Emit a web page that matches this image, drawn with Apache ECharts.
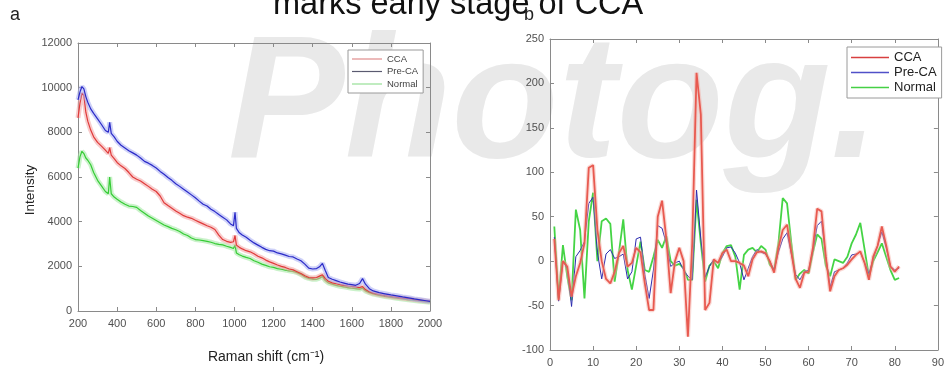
<!DOCTYPE html>
<html>
<head>
<meta charset="utf-8">
<script src="https://cdn.jsdelivr.net/npm/echarts@6/dist/echarts.min.js"></script>
<style>
  html, body { margin: 0; padding: 0; background: #fff; }
  #chart { width: 947px; height: 369px; }
</style>
</head>
<body>
<div id="chart"></div>
<script>
// ---- Panel a: mean Raman spectra ----
const ramanShift = [
  200, 210, 220, 230, 240, 250, 265, 280, 300, 320,
  340, 355, 362, 370, 385, 400, 420, 440, 460, 480,
  500, 520, 540, 560, 580, 600, 620, 640, 660, 680,
  700, 720, 740, 760, 780, 800, 820, 840, 860, 880,
  900, 920, 940, 960, 980, 995, 1003, 1010, 1025, 1040,
  1060, 1080, 1100, 1120, 1140, 1160, 1180, 1200, 1220, 1240,
  1260, 1280, 1300, 1320, 1340, 1360, 1380, 1400, 1420, 1435,
  1450, 1465, 1480, 1500, 1520, 1540, 1560, 1580, 1600, 1620,
  1640, 1655, 1670, 1690, 1710, 1740, 1770, 1800, 1830, 1860,
  1890, 1920, 1950, 1980, 2000
];
const ccaSpectrum = [
  8650, 9300, 9750, 9650, 8900, 8500, 8100, 7800, 7550, 7380,
  7200, 7060, 7320, 6980, 6820, 6650, 6500, 6380, 6200, 6000,
  5900, 5820, 5700, 5580, 5450, 5350, 5150, 4850, 4720, 4600,
  4480, 4380, 4270, 4200, 4150, 4060, 3980, 3900, 3820, 3750,
  3650, 3400, 3200, 3120, 3070, 3100, 3380, 2950, 2850, 2780,
  2700, 2650, 2560, 2450, 2380, 2280, 2200, 2130, 2060, 2000,
  1950, 1880, 1840, 1760, 1680, 1580, 1500, 1480, 1500, 1560,
  1620, 1450, 1330, 1260, 1220, 1180, 1150, 1120, 1100, 1080,
  1050, 1090, 960, 860, 800, 740, 690, 650, 610, 580,
  550, 510, 480, 450, 440
];
const preCaSpectrum = [
  9450, 9800, 10050, 9950, 9600, 9350, 9050, 8850, 8600, 8350,
  8080, 8000, 8450, 7950, 7800, 7600, 7420, 7300, 7180, 7080,
  6980, 6850, 6700, 6620, 6520, 6400, 6250, 6120, 5980, 5850,
  5700, 5580, 5450, 5330, 5200, 5070, 4920, 4780, 4700, 4560,
  4450, 4320, 4200, 4080, 3900, 3820, 4420, 3700, 3500, 3400,
  3300, 3170, 3050, 2950, 2850, 2760, 2700, 2680, 2600, 2560,
  2500, 2440, 2420, 2330, 2250, 2100, 1920, 1880, 1900, 1980,
  2130, 1800, 1500, 1420, 1360, 1300, 1250, 1200, 1180, 1150,
  1230, 1450, 1200, 1000, 900, 820, 770, 720, 680, 630,
  590, 540, 500, 460, 430
];
const normalSpectrum = [
  6400, 6900, 7150, 7050, 6850, 6750, 6550, 6200, 5850, 5600,
  5350, 5250, 6000, 5250, 5100, 5000, 4880, 4780, 4700, 4680,
  4640, 4500, 4380, 4250, 4150, 4050, 3950, 3850, 3780, 3700,
  3640, 3560, 3450, 3380, 3270, 3200, 3180, 3150, 3120, 3080,
  3020, 2980, 2960, 2900, 2850, 2800, 2950, 2600, 2520, 2460,
  2400, 2350, 2250, 2180, 2100, 2040, 1980, 1950, 1900, 1870,
  1830, 1800, 1770, 1720, 1640, 1520, 1460, 1420, 1420, 1470,
  1550, 1360, 1260, 1200, 1150, 1110, 1080, 1050, 1020, 1000,
  980, 1020, 900, 820, 760, 700, 650, 610, 570, 540,
  500, 470, 440, 410, 390
];

// ---- Panel b: per-component profiles ----
const componentIndex = [
  1, 2, 3, 4, 5, 6, 7, 8, 9, 10,
  11, 12, 13, 14, 15, 16, 17, 18, 19, 20,
  21, 22, 23, 24, 25, 26, 27, 28, 29, 30,
  31, 32, 33, 34, 35, 36, 37, 38, 39, 40,
  41, 42, 43, 44, 45, 46, 47, 48, 49, 50,
  51, 52, 53, 54, 55, 56, 57, 58, 59, 60,
  61, 62, 63, 64, 65, 66, 67, 68, 69, 70,
  71, 72, 73, 74, 75, 76, 77, 78, 79, 80,
  81
];
const ccaProfile = [
  25, -44, 0, -6, -40, -17, -2, 20, 105, 108,
  35, 0, -20, -25, -12, 9, 17, -6, -2, 15,
  10, -25, -55, -55, 50, 68, 25, -36, 0, 15,
  0, -85, 20, 212, 165, -55, -47, 2, -2, 9,
  13, 0, 0, -2, -5, -17, 2, 10, 11, 9,
  0, -13, 15, 35, 41, 10, -20, -30, -13, -12,
  15, 59, 56, 5, -34, -17, -10, -8, -4, 2,
  7, 11, -2, -21, 5, 17, 39, 18, -6, -12,
  -6
];
const preCaProfile = [
  27, -45, 0, -8, -51, 5, 12, 22, 65, 72,
  10, -20, 8, 13, 3, 5, 8, -20, -12, 25,
  27, -15, -42, -10, 40, 37, 20, -6, -2, 0,
  -10, -17, -21, 80, 25, -18, -6, 2, -2, 5,
  15, 16, 9, -2, -21, -8, 5, 13, 10, 8,
  0, -10, 10, 25, 32, 8, -15, -21, -12, -10,
  12, 40, 45, 5, -29, -12, -10, -8, -2, 7,
  8, 10, -2, -14, 3, 17, 33, 15, -6, -10,
  -8
];
const normalProfile = [
  39, -42, 18, -17, -44, 58, 35, -42, 45, 77,
  0, 45, 48, 42, -23, 10, 47, -10, -32, -5,
  22, -10, -12, 5, 24, 15, 28, 0, -5, -3,
  -8, -21, -21, 69, 20, -23, -5, 0, -8, 9,
  17, 18, 5, -32, 7, 13, 15, 10, 17, 13,
  -4, -10, 20, 71, 65, 20, -21, -14, -10, -14,
  10, 30, 25, -5, -17, 2, 0, -2, 5, 20,
  30, 43, 13, -17, 0, 10, 20, 5, -10, -21,
  -19
];

const groupNames = ['CCA', 'Pre-CA', 'Normal'];

const pairs = (xs, ys) => xs.map((x, i) => [x, ys[i]]);

const frameColor = '#8a8a8a';
const labelColor = '#505050';

// Box-style axes: labelled bottom/left, mirrored ticks on top/right
function boxAxes(grid, xMin, xMax, xStep, yMin, yMax, yStep) {
  const tick = { show: true, inside: true, length: 4, lineStyle: { color: frameColor } };
  const line = { show: true, onZero: false, lineStyle: { color: frameColor, width: 1 } };
  const label = { color: labelColor, fontSize: 11, fontFamily: 'Liberation Sans', formatter: v => String(v) };
  return {
    x: [
      { type: 'value', gridIndex: grid, position: 'bottom', min: xMin, max: xMax, interval: xStep,
        axisLine: line, axisTick: tick, splitLine: { show: false },
        axisLabel: Object.assign({ margin: 7 }, label) },
      { type: 'value', gridIndex: grid, position: 'top', min: xMin, max: xMax, interval: xStep,
        axisLine: line, axisTick: tick, splitLine: { show: false }, axisLabel: { show: false } }
    ],
    y: [
      { type: 'value', gridIndex: grid, position: 'left', min: yMin, max: yMax, interval: yStep,
        axisLine: line, axisTick: tick, splitLine: { show: false },
        axisLabel: Object.assign({ margin: 6 }, label) },
      { type: 'value', gridIndex: grid, position: 'right', min: yMin, max: yMax, interval: yStep,
        axisLine: line, axisTick: tick, splitLine: { show: false }, axisLabel: { show: false } }
    ]
  };
}

const axA = boxAxes(0, 200, 2000, 200, 0, 12000, 2000);
const axB = boxAxes(1, 0, 90, 10, -100, 250, 50);

axA.x[0].name = 'Raman shift (cm\u207B\u00B9)';
axA.x[0].nameLocation = 'middle';
axA.x[0].nameGap = 39;
axA.x[0].nameTextStyle = { color: '#222', fontSize: 14, fontFamily: 'Liberation Sans', padding: [0, 0, 0, 24] };
axA.y[0].name = 'Intensity';
axA.y[0].nameLocation = 'middle';
axA.y[0].nameGap = 38;
axA.y[0].nameTextStyle = { color: '#222', fontSize: 13.5, fontFamily: 'Liberation Sans', padding: [0, 26, 0, 0] };

// Spectrum: translucent band under a thin mean line
function spectrum(name, ys, color, band, z) {
  const data = pairs(ramanShift, ys);
  return [
    { type: 'line', xAxisIndex: 0, yAxisIndex: 0, data, symbol: 'none', silent: true, z: z,
      lineStyle: { color: band, width: 5, opacity: 0.55 } },
    { type: 'line', name, xAxisIndex: 0, yAxisIndex: 0, data, symbol: 'none', z: z + 1,
      color, lineStyle: { color, width: 1.2 } }
  ];
}

function profile(name, ys, color, width, halo, z) {
  const data = pairs(componentIndex, ys);
  const out = [];
  if (halo) {
    out.push({ type: 'line', xAxisIndex: 2, yAxisIndex: 2, data, symbol: 'none', silent: true, z: z,
      lineStyle: { color: halo, width: width + 2.5, opacity: 0.45 } });
  }
  out.push({ type: 'line', name, xAxisIndex: 2, yAxisIndex: 2, data, symbol: 'none', z: z + 1,
    color, lineStyle: { color, width } });
  return out;
}

const series = [].concat(
  spectrum(groupNames[2], normalSpectrum, '#35cc35', '#9ee89e', 2),
  spectrum(groupNames[0], ccaSpectrum, '#e03a3a', '#f2a3a3', 4),
  spectrum(groupNames[1], preCaSpectrum, '#2a2ac8', '#a6acf2', 6),
  profile(groupNames[2], normalProfile, '#45d445', 1.8, null, 2),
  profile(groupNames[1], preCaProfile, '#2b2bb0', 1, null, 4),
  profile(groupNames[0], ccaProfile, '#e85a50', 1.8, '#f5a8a0', 6)
);

// Legend keys are thin filled bars, coloured per entry
const legendBase = {
  orient: 'vertical', backgroundColor: '#fff', borderColor: '#9a9a9a', borderWidth: 1,
  borderRadius: 0, selectedMode: false, icon: 'rect'
};

function legendItems(colors) {
  return groupNames.map((n, i) => ({
    name: n,
    icon: 'rect',
    itemStyle: { color: colors[i], borderWidth: 0, opacity: 1 }
  }));
}

const option = {
  animation: false,
  backgroundColor: '#ffffff',
  grid: [
    { left: 78, top: 43, width: 352, height: 278 },
    { left: 550, top: 39, width: 392, height: 311 }
  ],
  xAxis: axA.x.concat(axB.x),
  yAxis: axA.y.concat(axB.y),
  legend: [
    Object.assign({}, legendBase, {
      left: 348, top: 50, itemWidth: 30, itemHeight: 1.2, itemGap: 2.5, padding: [4, 5, 4, 4],
      textStyle: { fontSize: 9.5, color: '#444', fontFamily: 'Liberation Sans' },
      data: legendItems(['#e08c8c', '#5a5a70', '#96e096'])
    }),
    Object.assign({}, legendBase, {
      left: 847, top: 47, itemWidth: 38, itemHeight: 1.5, itemGap: 2, padding: [4, 5, 4, 4],
      textStyle: { fontSize: 13, color: '#222', fontFamily: 'Liberation Sans' },
      data: legendItems(['#d84040', '#5050c8', '#45d045'])
    })
  ],
  graphic: [
    { type: 'text', x: 228, y: 109, z: -1, silent: true,
      style: { text: 'Photog.', fontSize: 175, fontWeight: 'bold', fontStyle: 'italic',
        fontFamily: 'Liberation Sans', fill: '#e9e9e9', verticalAlign: 'middle' } },
    { type: 'text', x: 273, y: 4.7, z: 100, silent: true,
      style: { text: 'marks early stage of CCA', fontSize: 32.5, fontFamily: 'Liberation Sans',
        fill: '#111', verticalAlign: 'middle' } },
    { type: 'text', x: 10, y: 14.8, z: 100, silent: true,
      style: { text: 'a', fontSize: 18, fontFamily: 'Liberation Sans', fill: '#222', verticalAlign: 'middle' } },
    { type: 'text', x: 524, y: 14.8, z: 100, silent: true,
      style: { text: 'b', fontSize: 18, fontFamily: 'Liberation Sans', fill: '#222', verticalAlign: 'middle' } }
  ],
  series
};

const chart = echarts.init(document.getElementById('chart'), null, { renderer: 'canvas' });
chart.setOption(option);
</script>
</body>
</html>
